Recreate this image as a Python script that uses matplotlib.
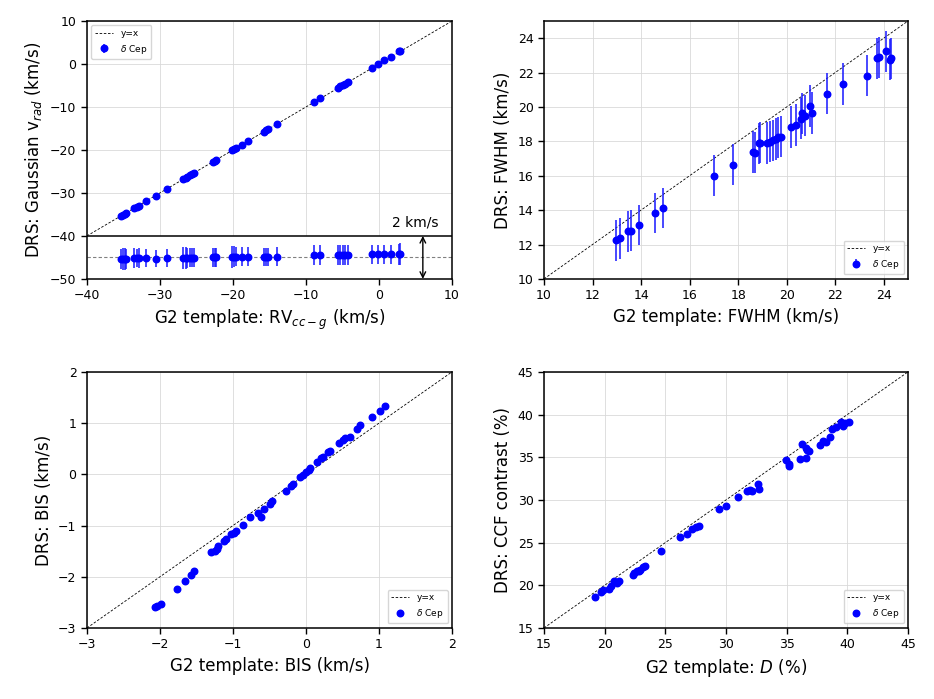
import numpy as np
import matplotlib
matplotlib.use('Agg')
import matplotlib.pyplot as plt

# --- top left: radial velocity (G2 template vs DRS gaussian fit) ---
rv_ccg = [-35.4, -35.1, -34.8, -34.6, -33.5, -33.2, -32.9, -31.9, -30.6, -29.1,
          -26.8, -26.5, -26.3, -25.9, -25.6, -25.3, -22.8, -22.5, -22.3, -20.1,
          -19.8, -19.6, -18.8, -18.0, -15.8, -15.5, -15.2, -14.0, -8.9, -8.1,
          -5.6, -5.3, -4.9, -4.7, -4.3, -1.0, -0.2, 0.74, 1.57, 2.76, 2.9]
drs_vrad = [-35.48, -35.18, -34.88, -34.67, -33.53, -33.23, -32.93, -31.93, -30.66, -29.13,
            -26.82, -26.52, -26.32, -25.91, -25.61, -25.31, -22.80, -22.50, -22.30, -20.07,
            -19.77, -19.57, -18.77, -17.97, -15.76, -15.46, -15.16, -13.96, -8.79, -7.99,
            -5.49, -5.19, -4.79, -4.59, -4.19, -0.86, -0.06, 0.88, 1.72, 2.90, 3.06]
vrad_err = [0.48, 0.5, 0.5, 0.45, 0.45, 0.42, 0.45, 0.42, 0.4, 0.42,
            0.5, 0.5, 0.48, 0.45, 0.45, 0.45, 0.45, 0.45, 0.45, 0.5,
            0.48, 0.45, 0.45, 0.45, 0.42, 0.42, 0.42, 0.45, 0.45, 0.45,
            0.45, 0.48, 0.45, 0.48, 0.45, 0.45, 0.45, 0.45, 0.45, 0.5, 0.5]

# --- top right: FWHM ---
fwhm_g2 = [12.96, 13.13, 13.46, 13.57, 13.90, 14.57, 14.90, 17.02, 17.79, 18.60,
           18.68, 18.85, 18.89, 19.20, 19.33, 19.44, 19.55, 19.66, 19.77, 20.19,
           20.37, 20.59, 20.62, 20.77, 20.97, 21.03, 21.66, 22.32, 23.31, 23.72,
           23.80, 24.10, 24.27, 24.29]
fwhm_drs = [12.25, 12.37, 12.76, 12.80, 13.13, 13.82, 14.11, 16.00, 16.64, 17.38,
            17.34, 17.89, 17.93, 17.91, 17.99, 18.05, 18.13, 18.23, 18.28, 18.83,
            18.95, 19.32, 19.62, 19.50, 20.05, 19.65, 20.77, 21.34, 21.81, 22.83,
            22.89, 23.24, 22.75, 22.83]
fwhm_err = [1.2, 1.2, 1.2, 1.2, 1.15, 1.15, 1.15, 1.2, 1.2, 1.2,
            1.2, 1.2, 1.2, 1.2, 1.2, 1.2, 1.2, 1.2, 1.2, 1.2,
            1.2, 1.2, 1.2, 1.2, 1.2, 1.2, 1.2, 1.2, 1.2, 1.2,
            1.2, 1.2, 1.2, 1.2]

# --- bottom left: BIS ---
bis_g2 = [-2.07, -2.04, -1.99, -1.77, -1.66, -1.57, -1.53, -1.30, -1.25, -1.22,
          -1.20, -1.12, -1.09, -1.03, -0.99, -0.96, -0.86, -0.77, -0.66, -0.62,
          -0.58, -0.50, -0.46, -0.28, -0.21, -0.18, -0.08, -0.04, 0.00, 0.04,
          0.05, 0.15, 0.20, 0.23, 0.30, 0.33, 0.45, 0.50, 0.54, 0.60,
          0.70, 0.74, 0.90, 1.01, 1.08]
bis_drs = [-2.59, -2.57, -2.53, -2.23, -2.09, -1.96, -1.88, -1.51, -1.49, -1.45,
           -1.39, -1.30, -1.26, -1.17, -1.15, -1.10, -0.98, -0.83, -0.76, -0.83,
           -0.67, -0.57, -0.53, -0.32, -0.23, -0.19, -0.06, -0.01, 0.04, 0.09,
           0.12, 0.24, 0.31, 0.34, 0.43, 0.46, 0.61, 0.67, 0.71, 0.73,
           0.89, 0.96, 1.11, 1.24, 1.33]

# --- bottom right: contrast ---
contrast_g2 = [19.20, 19.69, 19.89, 20.35, 20.49, 20.74, 20.98, 21.20, 22.30, 22.44,
               22.63, 22.80, 22.93, 23.13, 23.32, 24.64, 26.17, 26.78, 27.16, 27.49,
               27.79, 29.41, 30.01, 30.98, 31.77, 31.96, 32.18, 32.62, 32.73, 34.93,
               35.18, 35.20, 36.08, 36.25, 36.63, 36.71, 36.85, 36.63, 37.73, 38.03,
               38.28, 38.58, 38.77, 39.10, 39.51, 39.65, 39.79, 40.14]
contrast_drs = [18.64, 19.27, 19.50, 19.58, 19.97, 20.52, 20.32, 20.52, 21.19, 21.46,
                21.73, 21.62, 21.85, 22.16, 22.28, 24.04, 25.65, 26.04, 26.63, 26.86,
                26.98, 28.98, 29.29, 30.35, 31.02, 31.21, 31.09, 31.88, 31.33, 34.62,
                34.19, 34.03, 34.78, 36.54, 36.03, 35.80, 35.68, 34.89, 36.42, 36.93,
                36.81, 37.36, 38.34, 38.50, 39.12, 38.62, 39.01, 39.09]

# 残差面板: 中心位置和放大倍数 (10 个坐标单位 = 2 km/s)
resid_center = -45
resid_scale = 5.0

err_color = (0.1, 0.1, 1.0, 0.8)

fig = plt.figure(figsize=(9.34, 6.99), dpi=100)

ax1 = fig.add_axes([0.0931, 0.601, 0.3909, 0.369])
ax2 = fig.add_axes([0.5824, 0.601, 0.3898, 0.369])
ax3 = fig.add_axes([0.0931, 0.1016, 0.3909, 0.3664])
ax4 = fig.add_axes([0.5824, 0.1016, 0.3898, 0.3664])


def style_axes(ax):
    ax.grid(True, color='#d9d9d9', linewidth=0.6, zorder=0)
    ax.set_axisbelow(True)
    ax.tick_params(labelsize=9, direction='out', length=4, width=1)
    for s in ax.spines.values():
        s.set_linewidth(1.1)


def one_to_one(ax, lo, hi):
    ax.plot([lo, hi], [lo, hi], '--', color='k', linewidth=0.6,
            dashes=(3, 2), label='y=x', zorder=1)


# top left
rv = np.array(rv_ccg)
vr = np.array(drs_vrad)
one_to_one(ax1, -40, 10)
ax1.plot(rv, vr, 'o', color='blue', ms=4.7, zorder=3)
resid = resid_center + resid_scale * (vr - rv)
ax1.errorbar(rv, resid, yerr=resid_scale * np.array(vrad_err), fmt='o', color='blue',
             ecolor=err_color, elinewidth=1.4, ms=4.7, zorder=3,
             label=r'$\delta$ Cep')
ax1.axhline(resid_center, color='grey', linestyle='--', linewidth=0.8, dashes=(3, 2), zorder=2)
ax1.axhspan(-50, -40, color='white', zorder=1)
ax1.axhline(-40, color='k', linewidth=1.1, zorder=2)
ax1.annotate('', xy=(6, -50), xytext=(6, -40),
             arrowprops=dict(arrowstyle='<->', color='k', lw=1, shrinkA=0, shrinkB=0))
ax1.text(5, -38.6, '2 km/s', ha='center', va='bottom', fontsize=10)
ax1.set_xlim(-40, 10)
ax1.set_ylim(-50, 10)
ax1.set_xticks(np.arange(-40, 11, 10))
ax1.set_yticks(np.arange(-50, 11, 10))
ax1.set_xlabel(r'G2 template: RV$_{cc-g}$ (km/s)', fontsize=12)
ax1.set_ylabel(r'DRS: Gaussian v$_{rad}$ (km/s)', fontsize=12)
style_axes(ax1)
ax1.legend(loc='upper left', fontsize=6.5)

# top right
one_to_one(ax2, 10, 25)
ax2.errorbar(fwhm_g2, fwhm_drs, yerr=fwhm_err, fmt='o', color='blue',
             ecolor=err_color, elinewidth=1.4, ms=4.7,
             label=r'$\delta$ Cep', zorder=3)
ax2.set_xlim(10, 25)
ax2.set_ylim(10, 25)
ax2.set_xticks(np.arange(10, 25, 2))
ax2.set_yticks(np.arange(10, 25, 2))
ax2.set_xlabel('G2 template: FWHM (km/s)', fontsize=12)
ax2.set_ylabel('DRS: FWHM (km/s)', fontsize=12)
style_axes(ax2)
ax2.legend(loc='lower right', fontsize=6.5)

# bottom left
one_to_one(ax3, -3, 2)
ax3.plot(bis_g2, bis_drs, 'o', color='blue', ms=4.7, label=r'$\delta$ Cep', zorder=3)
ax3.set_xlim(-3, 2)
ax3.set_ylim(-3, 2)
ax3.set_xticks(np.arange(-3, 3, 1))
ax3.set_yticks(np.arange(-3, 3, 1))
ax3.set_xlabel('G2 template: BIS (km/s)', fontsize=12)
ax3.set_ylabel('DRS: BIS (km/s)', fontsize=12)
style_axes(ax3)
ax3.legend(loc='lower right', fontsize=6.5)

# bottom right
one_to_one(ax4, 15, 45)
ax4.plot(contrast_g2, contrast_drs, 'o', color='blue', ms=4.7, label=r'$\delta$ Cep', zorder=3)
ax4.set_xlim(15, 45)
ax4.set_ylim(15, 45)
ax4.set_xticks(np.arange(15, 46, 5))
ax4.set_yticks(np.arange(15, 46, 5))
ax4.set_xlabel(r'G2 template: $D$ (%)', fontsize=12)
ax4.set_ylabel('DRS: CCF contrast (%)', fontsize=12)
style_axes(ax4)
ax4.legend(loc='lower right', fontsize=6.5)

plt.savefig('out.png', dpi=100, facecolor='white')
